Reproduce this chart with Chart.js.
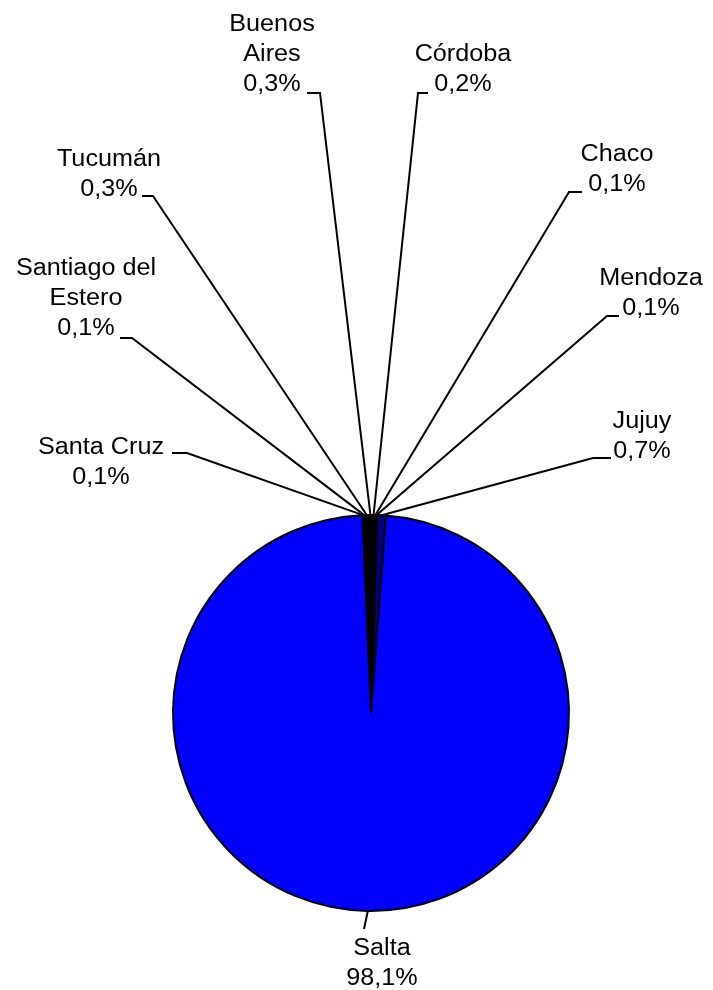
<!DOCTYPE html>
<html>
<head>
<meta charset="utf-8">
<script src="https://cdn.jsdelivr.net/npm/chart.js@4/dist/chart.umd.min.js"></script>
<style>
  html, body { margin: 0; padding: 0; background: #fff; }
  canvas { display: block; }
</style>
</head>
<body>
<canvas id="pie" width="713" height="990"></canvas>
<script>
// provinces in clockwise order, starting just left of 12 o'clock
const provinces = ["Santa Cruz", "Santiago del Estero", "Tucumán", "Buenos Aires", "Córdoba", "Chaco", "Mendoza", "Jujuy", "Salta"];
const shares = [0.1, 0.1, 0.3, 0.3, 0.2, 0.1, 0.1, 0.7, 98.1];
const labelLines = [["Santa Cruz"], ["Santiago del", "Estero"], ["Tucumán"], ["Buenos", "Aires"], ["Córdoba"], ["Chaco"], ["Mendoza"], ["Jujuy"], ["Salta"]];

const sliceColors = ["#000000", "#000000", "#000000", "#000000", "#000000", "#000000", "#000000", "#000080", "#0000ff"];

// label placement, offsets from the pie centre:
// elbow of the leader, end of the short stub, text centre x, first baseline
const labelPlacement = [
  { ex: -184, ey: -260, sx: -199, tx: -270, by: -259 },
  { ex: -239, ey: -375, sx: -251, tx: -285, by: -438 },
  { ex: -218, ey: -517, sx: -229, tx: -262, by: -547 },
  { ex: -51,  ey: -620, sx: -64,  tx: -99,  by: -682 },
  { ex: 47,   ey: -620, sx: 57,   tx: 92,   by: -652 },
  { ex: 198,  ey: -521, sx: 211,  tx: 246,  by: -552 },
  { ex: 236,  ey: -397, sx: 248,  tx: 280,  by: -428 },
  { ex: 222,  ey: -255, sx: 240,  tx: 271,  by: -285 },
  { ex: -7,   ey: 216,  sx: -7,   tx: 11,   by: 242 }
];

const fmt = v => v.toFixed(1).replace(".", ",") + "%";

const leaderLabels = {
  id: "leaderLabels",
  afterDatasetsDraw(chart) {
    const ctx = chart.ctx;
    const arcs = chart.getDatasetMeta(0).data;
    ctx.save();
    ctx.strokeStyle = "#000";
    ctx.lineWidth = 2;
    ctx.fillStyle = "#000";
    ctx.font = "26px 'Liberation Sans', Arial, sans-serif";
    ctx.textAlign = "center";
    ctx.textBaseline = "alphabetic";
    arcs.forEach((arc, i) => {
      const { x, y, startAngle, endAngle, outerRadius } = arc.getProps(["x", "y", "startAngle", "endAngle", "outerRadius"], true);
      const mid = (startAngle + endAngle) / 2;
      const p = labelPlacement[i];
      ctx.beginPath();
      ctx.moveTo(x + Math.cos(mid) * outerRadius, y + Math.sin(mid) * outerRadius);
      ctx.lineTo(x + p.ex, y + p.ey);
      ctx.lineTo(x + p.sx, y + p.ey);
      ctx.stroke();

      const lines = labelLines[i].concat([fmt(shares[i])]);
      lines.forEach((t, k) => {
        ctx.save();
        ctx.translate(x + p.tx, y + p.by + k * 30);
        ctx.scale(0.97, 0.93);
        ctx.fillText(t, 0, 0);
        ctx.restore();
      });
    });
    ctx.restore();
  }
};

new Chart(document.getElementById("pie"), {
  type: "pie",
  data: {
    labels: provinces,
    datasets: [{
      data: shares,
      backgroundColor: sliceColors,
      borderColor: "#000",
      borderWidth: 2
    }]
  },
  options: {
    responsive: false,
    animation: false,
    rotation: -2.5,
    radius: 198,
    layout: { padding: { left: 172, right: 143, top: 514, bottom: 78 } },
    plugins: {
      legend: { display: false },
      tooltip: { enabled: false }
    }
  },
  plugins: [leaderLabels]
});
</script>
</body>
</html>
